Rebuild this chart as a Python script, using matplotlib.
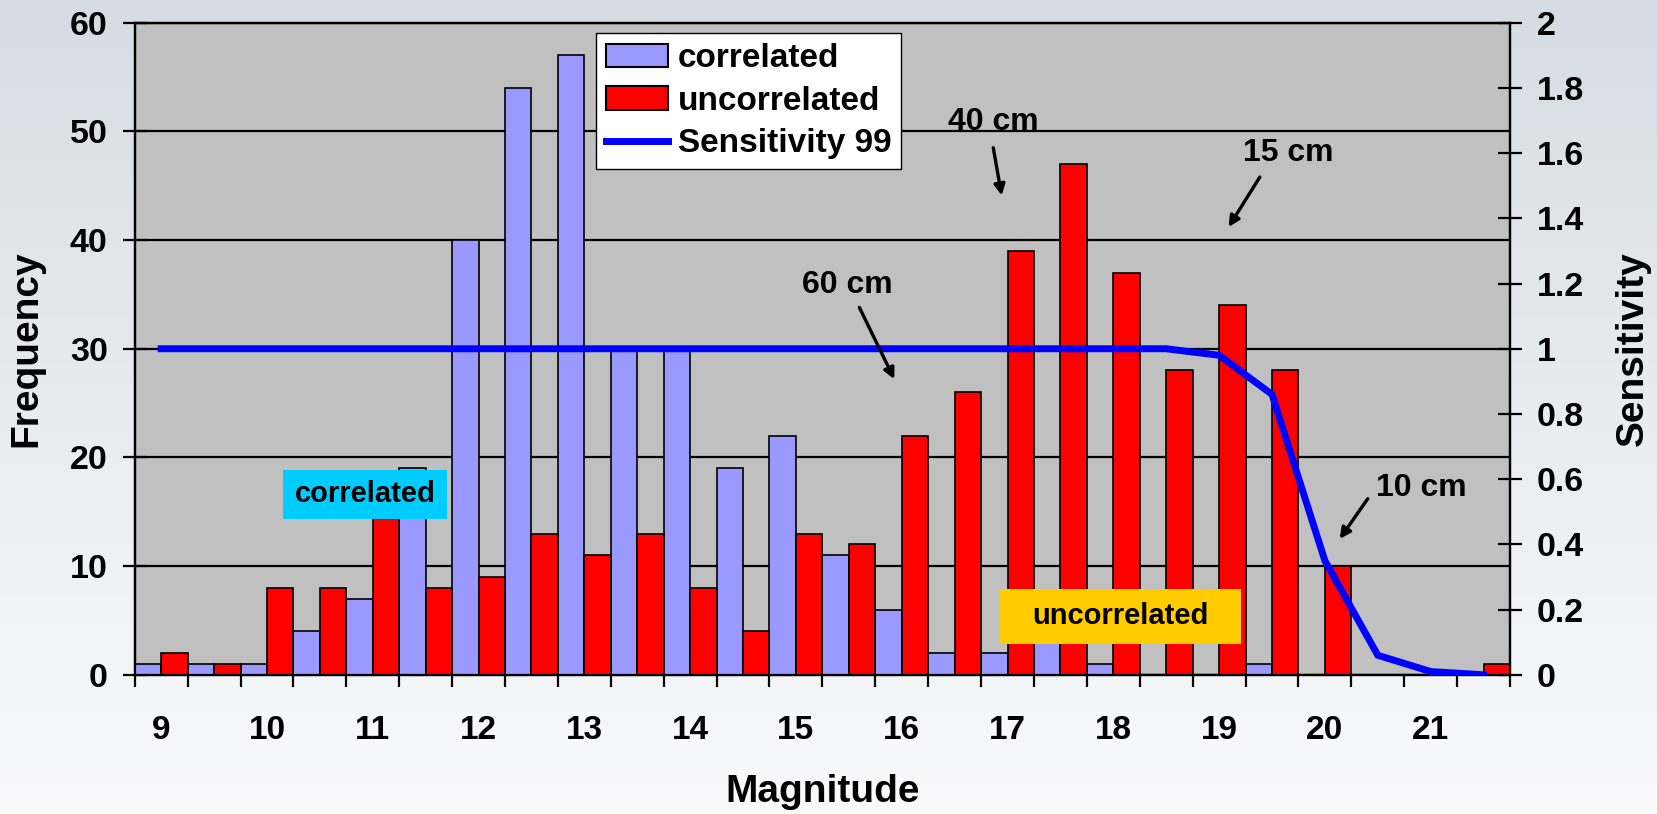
import numpy as np
import matplotlib
matplotlib.use('Agg')
import matplotlib.pyplot as plt
from matplotlib.patches import Patch, Rectangle
from matplotlib.lines import Line2D
from matplotlib.ticker import FuncFormatter

plt.rcParams['font.family'] = ['Liberation Sans', 'DejaVu Sans']
plt.rcParams['font.weight'] = 'bold'
plt.rcParams['axes.labelweight'] = 'bold'

# magnitude bins (half-magnitude steps)
magnitudes = [9, 9.5, 10, 10.5, 11, 11.5, 12, 12.5, 13, 13.5, 14, 14.5, 15,
              15.5, 16, 16.5, 17, 17.5, 18, 18.5, 19, 19.5, 20, 20.5, 21, 21.5]
correlated = [1, 1, 1, 4, 7, 19, 40, 54, 57, 30, 30, 19, 22,
              11, 6, 2, 2, 3, 1, 0, 0, 1, 0, 0, 0, 0]
uncorrelated = [2, 1, 8, 8, 15, 8, 9, 13, 11, 13, 8, 4, 13,
                12, 22, 26, 39, 47, 37, 28, 34, 28, 10, 0, 0, 1]
sensitivity = [1, 1, 1, 1, 1, 1, 1, 1, 1, 1, 1, 1, 1,
               1, 1, 1, 1, 1, 1, 1, 0.98, 0.86, 0.35, 0.06, 0.01, 0.0]

fig = plt.figure(figsize=(16.57, 8.14), dpi=100)

# background gradient
bg = fig.add_axes([0, 0, 1, 1], zorder=-10)
top = np.array([214, 220, 228]) / 255
bot = np.array([250, 250, 251]) / 255
t = np.linspace(0, 1, 256)[:, None]
grad = top[None, :] * (1 - t) + bot[None, :] * t
bg.imshow(grad[:, None, :], aspect='auto', extent=[0, 1, 0, 1])
bg.axis('off')

ax = fig.add_axes([0.0813, 0.171, 0.8300, 0.8011])
ax.set_facecolor('#C0C0C0')
x = np.arange(len(magnitudes))
ax.bar(x - 0.25, correlated, width=0.5, color='#9999FF', edgecolor='black',
       linewidth=1.2, zorder=3)
ax.bar(x + 0.25, uncorrelated, width=0.5, color='#FF0000', edgecolor='black',
       linewidth=1.2, zorder=3)
ax.set_xlim(-0.5, len(magnitudes) - 0.5)
ax.set_ylim(0, 60)
ax.set_yticks(range(0, 61, 10))
ax.yaxis.grid(True, color='black', linewidth=1.6, zorder=1)
ax.set_axisbelow(True)
for s in ax.spines.values():
    s.set_linewidth(1.6)
ax.tick_params(axis='y', direction='inout', length=17, width=1.6,
               labelsize=24.5, pad=11)

# ticks between bins, labels on whole magnitudes
ax.set_xticks(np.arange(-0.5, len(magnitudes), 1))
ax.set_xticklabels([])
ax.tick_params(axis='x', which='major', direction='out', length=8.5, width=1.6)
lab_pos = [i for i, m in enumerate(magnitudes) if m == int(m)]
ax.set_xticks(lab_pos, minor=True)
ax.set_xticklabels([str(int(magnitudes[i])) for i in lab_pos], minor=True)
ax.tick_params(axis='x', which='minor', length=0, labelsize=24, pad=29)
ax.set_xlabel('Magnitude', fontsize=28, labelpad=20)
ax.set_ylabel('Frequency', fontsize=28, labelpad=18)

ax2 = ax.twinx()
ax2.plot(x, sensitivity, color='#0000FF', linewidth=5, zorder=4,
         solid_joinstyle='miter')
ax2.set_ylim(0, 2)
ax2.set_yticks(np.arange(0, 2.01, 0.2))
ax2.yaxis.set_major_formatter(FuncFormatter(lambda v, p: '%g' % round(v, 1)))
ax2.tick_params(axis='y', direction='inout', length=17, width=1.6,
                labelsize=24.5, pad=11)
for s in ax2.spines.values():
    s.set_linewidth(1.6)
ax2.set_ylabel('Sensitivity', fontsize=28, labelpad=22)

handles = [Patch(facecolor='#9999FF', edgecolor='black', linewidth=1.5),
           Patch(facecolor='#FF0000', edgecolor='black', linewidth=1.5),
           Line2D([], [], color='#0000FF', linewidth=5)]
leg = ax2.legend(handles, ['correlated', 'uncorrelated', 'Sensitivity 99'],
                 loc='upper left', bbox_to_anchor=(0.3355, 0.984),
                 borderaxespad=0, fontsize=24, fancybox=False,
                 edgecolor='black', framealpha=1, handlelength=1.85,
                 handleheight=0.7, handletextpad=0.3, labelspacing=0.35,
                 borderpad=0.3)
leg.get_frame().set_linewidth(1.0)
leg.set_zorder(6)

# arrow annotations (in frequency-axis data coords)
notes = [('40 cm', (15.73, 50.9), (15.73, 48.5), (15.89, 44.1)),
         ('60 cm', (12.97, 35.9), (13.2, 33.8), (13.86, 27.2)),
         ('15 cm', (21.3, 48.0), (20.77, 45.8), (20.18, 41.2)),
         ('10 cm', (23.83, 17.2), (22.81, 16.2), (22.28, 12.5))]
for txt, tpos, tail, head in notes:
    ax2.text(tpos[0], tpos[1], txt, transform=ax.transData, fontsize=23,
             ha='center', va='center', zorder=7)
    ax2.annotate('', xy=head, xycoords=ax.transData, xytext=tail,
                 textcoords=ax.transData,
                 arrowprops=dict(arrowstyle='-|>', color='black', lw=2.4,
                                 shrinkA=0, shrinkB=0, mutation_scale=16),
                 zorder=7)

# coloured label boxes
ax2.add_patch(Rectangle((0.1077, 0.2394), 0.1194, 0.0753,
                        transform=ax2.transAxes, facecolor='#00CCFF',
                        edgecolor='none', zorder=5))
ax2.text(0.1674, 0.277, 'correlated', transform=ax2.transAxes, fontsize=21,
         ha='center', va='center', zorder=6)
ax2.add_patch(Rectangle((0.6295, 0.0476), 0.1747, 0.0844,
                        transform=ax2.transAxes, facecolor='#FFCC00',
                        edgecolor='none', zorder=5))
ax2.text(0.7169, 0.0898, 'uncorrelated', transform=ax2.transAxes, fontsize=21,
         ha='center', va='center', zorder=6)

fig.savefig('out.png', dpi=100)
